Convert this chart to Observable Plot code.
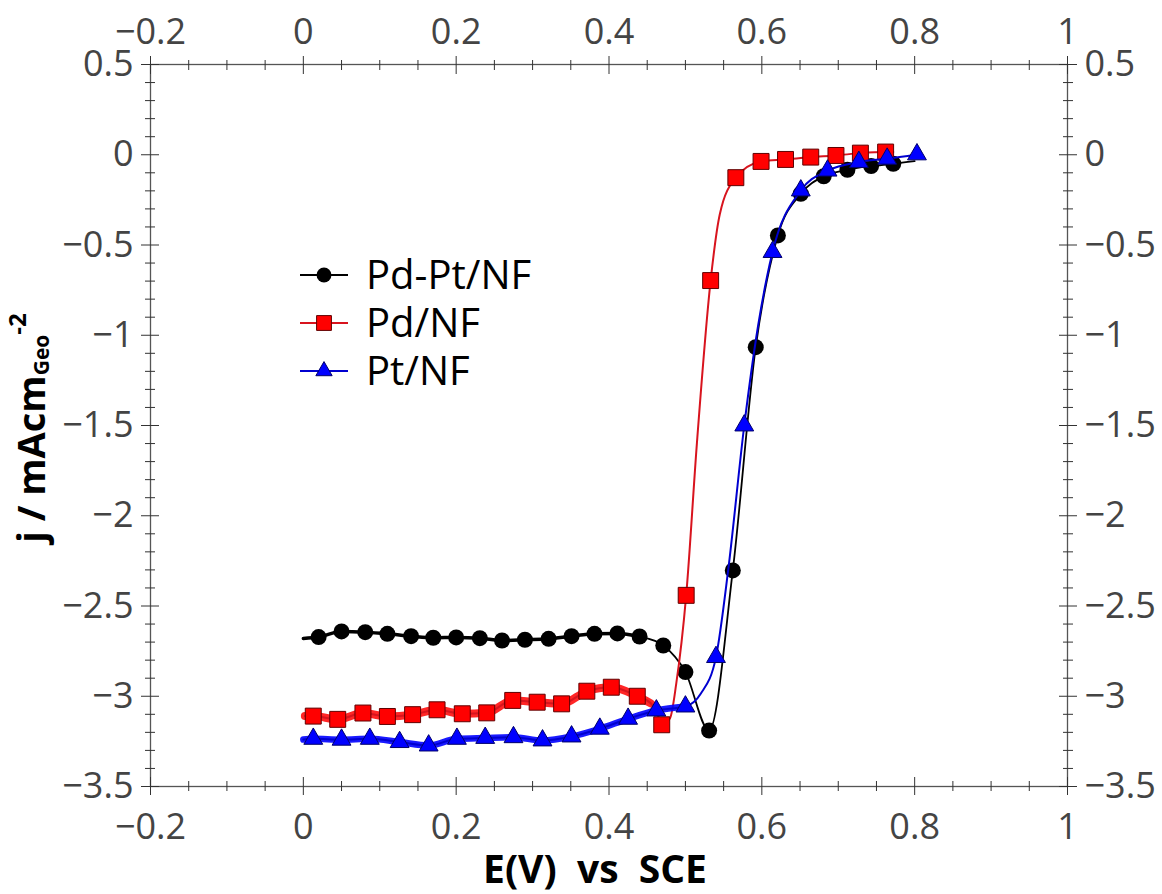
<!DOCTYPE html>
<html><head><meta charset="utf-8">
<script src="https://cdn.jsdelivr.net/npm/d3@7"></script>
<script src="https://cdn.jsdelivr.net/npm/@observablehq/plot@0.6"></script>
<style>
body{margin:0;background:#fff;}
svg text{white-space:pre;}
</style></head><body><div id="chart"></div>
<script>
// ---- data ----
const seriesNames = ["Pd-Pt/NF", "Pd/NF", "Pt/NF"];

// markers
const pdptMarkE = [0.020,0.050,0.081,0.110,0.141,0.170,0.200,0.231,0.260,0.290,0.321,0.351,0.381,0.411,0.440,0.471,0.500,0.531,0.562,0.592,0.621,0.651,0.681,0.712,0.743,0.772];
const pdptMarkJ = [-2.672,-2.641,-2.645,-2.654,-2.667,-2.676,-2.674,-2.678,-2.691,-2.687,-2.682,-2.667,-2.654,-2.652,-2.669,-2.719,-2.866,-3.190,-2.303,-1.066,-0.447,-0.216,-0.119,-0.083,-0.063,-0.050];

const pdMarkE = [0.013,0.045,0.078,0.110,0.143,0.175,0.208,0.240,0.274,0.306,0.338,0.371,0.403,0.437,0.469,0.501,0.533,0.566,0.599,0.631,0.664,0.697,0.729,0.762];
const pdMarkJ = [-3.110,-3.128,-3.093,-3.112,-3.102,-3.075,-3.097,-3.092,-3.023,-3.033,-3.042,-2.972,-2.950,-3.000,-3.158,-2.441,-0.697,-0.127,-0.037,-0.026,-0.013,-0.004,0.009,0.015];

const ptMarkE = [0.013,0.050,0.087,0.126,0.164,0.201,0.238,0.275,0.313,0.351,0.388,0.425,0.462,0.500,0.540,0.577,0.614,0.651,0.686,0.727,0.764,0.803];
const ptMarkJ = [-3.236,-3.241,-3.236,-3.254,-3.273,-3.236,-3.231,-3.227,-3.245,-3.223,-3.180,-3.125,-3.079,-3.057,-2.783,-1.500,-0.539,-0.198,-0.088,-0.040,-0.022,0.002];

// continuous curves (denser where the curve bends)
const pdptLineE = [0.000,0.020,0.050,0.081,0.110,0.141,0.170,0.200,0.231,0.260,0.290,0.321,0.351,0.381,0.411,0.440,0.471,0.500,0.531,0.562,0.592,0.621,0.651,0.681,0.712,0.743,0.772,0.800];
const pdptLineJ = [-2.680,-2.672,-2.641,-2.645,-2.654,-2.667,-2.676,-2.674,-2.678,-2.691,-2.687,-2.682,-2.667,-2.654,-2.652,-2.669,-2.719,-2.866,-3.190,-2.303,-1.066,-0.447,-0.216,-0.119,-0.083,-0.063,-0.050,-0.035];

const pdLineE = [0.002,0.013,0.045,0.078,0.110,0.143,0.175,0.208,0.240,0.274,0.306,0.338,0.371,0.403,0.437,0.455,0.472,0.480,0.488,0.501,0.515,0.533,0.545,0.566,0.599,0.631,0.664,0.697,0.729,0.762,0.772];
const pdLineJ = [-3.110,-3.110,-3.128,-3.093,-3.112,-3.102,-3.075,-3.097,-3.092,-3.023,-3.033,-3.042,-2.972,-2.950,-3.000,-3.040,-3.150,-3.120,-2.930,-2.441,-1.600,-0.697,-0.330,-0.127,-0.037,-0.026,-0.013,-0.004,0.009,0.015,0.015];

const ptLineE = [0.000,0.013,0.050,0.087,0.126,0.164,0.201,0.238,0.275,0.313,0.351,0.388,0.425,0.462,0.500,0.520,0.540,0.556,0.577,0.595,0.614,0.651,0.686,0.727,0.764,0.803];
const ptLineJ = [-3.240,-3.236,-3.241,-3.236,-3.254,-3.273,-3.236,-3.231,-3.227,-3.245,-3.223,-3.180,-3.125,-3.079,-3.057,-2.986,-2.783,-2.300,-1.500,-0.950,-0.539,-0.198,-0.088,-0.040,-0.022,0.002];

// axes
const xMajor = [-0.2, 0, 0.2, 0.4, 0.6, 0.8, 1];
const xMinor = [-0.15,-0.1,-0.05,0.05,0.1,0.15,0.25,0.3,0.35,0.45,0.5,0.55,0.65,0.7,0.75,0.85,0.9,0.95];
const yMajor = [0.5, 0, -0.5, -1, -1.5, -2, -2.5, -3, -3.5];
const yMinor = [0.4,0.3,0.2,0.1,-0.1,-0.2,-0.3,-0.4,-0.6,-0.7,-0.8,-0.9,-1.1,-1.2,-1.3,-1.4,-1.6,-1.7,-1.8,-1.9,-2.1,-2.2,-2.3,-2.4,-2.6,-2.7,-2.8,-2.9,-3.1,-3.2,-3.3,-3.4];
const xTitle = "E(V)  vs  SCE";

// ---- build ----
const rows = (E, J) => E.map((e, i) => ({E: e, j: J[i]}));
const pdptMarks = rows(pdptMarkE, pdptMarkJ), pdMarks = rows(pdMarkE, pdMarkJ), ptMarks = rows(ptMarkE, ptMarkJ);
const pdptLine = rows(pdptLineE, pdptLineJ), pdLine = rows(pdLineE, pdLineJ), ptLine = rows(ptLineE, ptLineJ);

const fmt = d3.format("~g");
const none = () => "";
const ax = {fill: "#444", stroke: "#333", fontSize: 36, label: null};

function axesFor(dir, anchor, major, minor, pad) {
  const A = dir === "x" ? Plot.axisX : Plot.axisY;
  return [
    A(major, {...ax, anchor, tickSize: 9, tickPadding: pad, tickFormat: fmt}),
    A(major, {...ax, anchor, tickSize: -9, tickFormat: none}),
    A(minor, {...ax, anchor, tickSize: 5, tickFormat: none}),
    A(minor, {...ax, anchor, tickSize: -5, tickFormat: none})
  ];
}

const colors = {black: "#000000", redLine: "#d8141e", red: "#ff0000", blueLine: "#0000d0", blue: "#0000ff"};

const chart = Plot.plot({
  width: 1162, height: 894,
  marginLeft: 150, marginRight: 95, marginTop: 64, marginBottom: 108,
  x: {domain: [-0.2, 1], label: null},
  y: {domain: [-3.5, 0.5], label: null},
  style: {fontFamily: "'Open Sans', sans-serif", fontSize: "36px", color: "#444", background: "white"},
  marks: [
    Plot.frame({stroke: "#555", strokeWidth: 1.3}),
    ...axesFor("x", "bottom", xMajor, xMinor, 18),
    ...axesFor("x", "top", xMajor, xMinor, 12),
    ...axesFor("y", "left", yMajor, yMinor, 8),
    ...axesFor("y", "right", yMajor, yMinor, 8),
    // Pd-Pt/NF
    Plot.line(pdptLine.filter(d => d.E <= 0.46), {x: "E", y: "j", stroke: colors.black, strokeWidth: 3.5, curve: "monotone-x"}),
    Plot.line(pdptLine, {x: "E", y: "j", stroke: colors.black, strokeWidth: 1.8, curve: "monotone-x"}),
    Plot.dot(pdptMarks, {x: "E", y: "j", r: 8, fill: colors.black, symbol: "circle"}),
    // Pd/NF
    Plot.line(pdLine.filter(d => d.E <= 0.456), {x: "E", y: "j", stroke: colors.red, strokeWidth: 8, strokeOpacity: 0.85, curve: "monotone-x"}),
    Plot.line(pdLine, {x: "E", y: "j", stroke: colors.redLine, strokeWidth: 2, curve: "monotone-x"}),
    Plot.dot(pdMarks, {x: "E", y: "j", r: 9, fill: colors.red, stroke: "#600000", strokeWidth: 1, symbol: "square"}),
    // Pt/NF
    Plot.line(ptLine.filter(d => d.E <= 0.50), {x: "E", y: "j", stroke: colors.blue, strokeWidth: 6.5, strokeOpacity: 0.9, curve: "monotone-x"}),
    Plot.line(ptLine, {x: "E", y: "j", stroke: colors.blueLine, strokeWidth: 2, curve: "monotone-x"}),
    Plot.dot(ptMarks, {x: "E", y: "j", r: 7, fill: colors.blue, stroke: "#00006a", strokeWidth: 1, symbol: "triangle"}),
    // x title
    Plot.text([xTitle], {text: d => d, frameAnchor: "bottom", dx: -14, dy: 96, lineAnchor: "bottom", fontSize: 39, fontWeight: "bold", fill: "#000"})
  ]
});
document.getElementById("chart").appendChild(chart);

// y title with subscript / superscript
const svg = d3.select(chart);
const yt = svg.append("text")
  .attr("transform", "translate(45,428) rotate(-90)")
  .attr("text-anchor", "middle")
  .attr("font-family", "'Open Sans', sans-serif")
  .attr("font-weight", "bold")
  .attr("font-size", 38)
  .attr("fill", "#000");
yt.append("tspan").text("j / mAcm");
yt.append("tspan").attr("font-size", 21).attr("dy", 4).text("Geo");
yt.append("tspan").attr("font-size", 24).attr("dy", -23).text("-2");

// legend
const legend = svg.append("g").attr("font-family", "'Open Sans', sans-serif").attr("font-size", 40).attr("fill", "#000").attr("text-anchor", "start");
const legItems = [
  {name: seriesNames[0], line: colors.black, sym: d3.symbolCircle, size: 175, fill: colors.black, stroke: "none"},
  {name: seriesNames[1], line: colors.redLine, sym: d3.symbolSquare, size: 220, fill: colors.red, stroke: "#600000"},
  {name: seriesNames[2], line: colors.blueLine, sym: d3.symbolTriangle, size: 115, fill: colors.blue, stroke: "#00006a"}
];
legItems.forEach((it, i) => {
  const cy = 275 + i * 48;
  const g = legend.append("g");
  g.append("line").attr("x1", 300).attr("x2", 348).attr("y1", cy).attr("y2", cy).attr("stroke", it.line).attr("stroke-width", 2);
  g.append("path").attr("d", d3.symbol(it.sym, it.size)()).attr("transform", `translate(324,${cy})`)
    .attr("fill", it.fill).attr("stroke", it.stroke).attr("stroke-width", 1);
  g.append("text").attr("x", 366).attr("y", cy).attr("dy", "0.36em").attr("text-anchor", "start").text(it.name);
});
</script>
</body></html>
